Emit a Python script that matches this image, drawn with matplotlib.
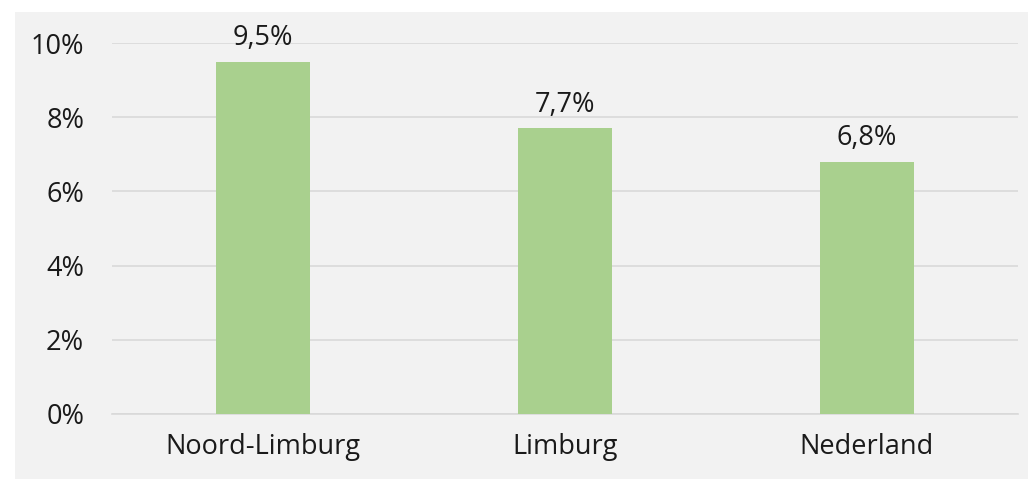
import matplotlib.pyplot as plt
from matplotlib.patches import Rectangle
from matplotlib.ticker import FuncFormatter

plt.rcParams['font.family'] = ['Open Sans', 'DejaVu Sans']

categories = ['Noord-Limburg', 'Limburg', 'Nederland']
values = [0.095, 0.077, 0.068]
value_labels = ['9,5%', '7,7%', '6,8%']

bar_color = '#a9d08e'
bg_color = '#f2f2f2'
grid_color = '#d9d9d9'
text_color = '#1a1a1a'

fig = plt.figure(figsize=(10.28, 4.79), dpi=100)
# grey chart area, white strip on top and left
fig.patches.append(Rectangle((15 / 1028, 0), 1, 1 - 12 / 479, transform=fig.transFigure,
                             facecolor=bg_color, edgecolor='none', zorder=-10))

ax = fig.add_axes([112 / 1028, 1 - 414 / 479, 906 / 1028, (414 - 43) / 479])
ax.set_facecolor('none')

x = range(len(categories))
bars = ax.bar(x, values, width=0.31, color=bar_color, zorder=3)

for b, lab in zip(bars, value_labels):
    ax.annotate(lab, (b.get_x() + b.get_width() / 2, b.get_height()),
                xytext=(0, 7), textcoords='offset points',
                ha='center', va='bottom', fontsize=19.5, color=text_color)

ax.set_xlim(-0.5, 2.5)
ax.set_ylim(0, 0.10)
ax.set_yticks([0, 0.02, 0.04, 0.06, 0.08, 0.10])
ax.yaxis.set_major_formatter(FuncFormatter(lambda v, p: f'{v * 100:.0f}%'))
ax.set_xticks(list(x))
ax.set_xticklabels(categories)
ax.tick_params(axis='both', length=0, labelsize=19.5, colors=text_color)
ax.tick_params(axis='x', pad=14)
ax.tick_params(axis='y', pad=20)

ax.grid(axis='y', color=grid_color, linewidth=1.2, zorder=0)
for s in ['top', 'right', 'left']:
    ax.spines[s].set_visible(False)
ax.spines['bottom'].set_color(grid_color)
ax.spines['bottom'].set_linewidth(1.2)

fig.savefig('out.png', dpi=100)
